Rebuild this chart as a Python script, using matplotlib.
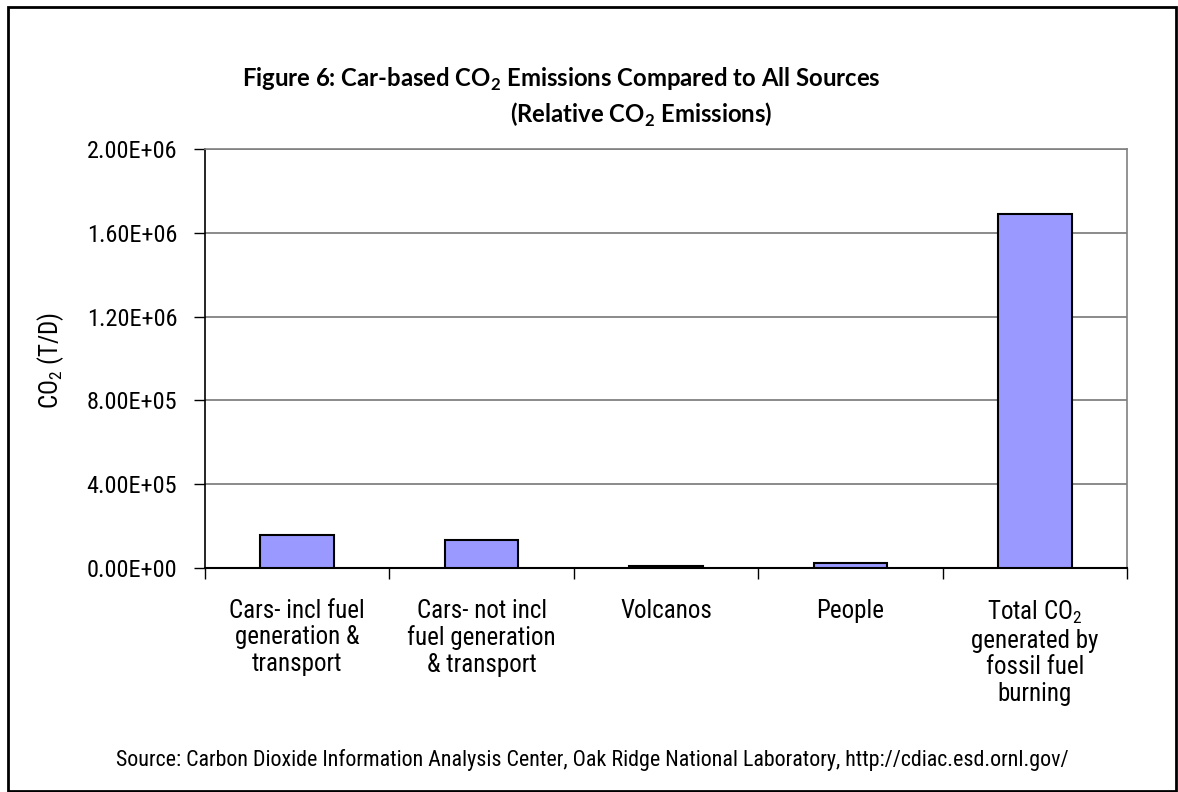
import matplotlib
matplotlib.use('Agg')
import matplotlib.pyplot as plt
from matplotlib import font_manager
from matplotlib.patches import Rectangle
from matplotlib.ticker import FixedLocator, FuncFormatter

# Emission sources and CO2 output (tonnes per day)
categories = ['Cars- incl fuel\ngeneration &\ntransport',
              'Cars- not incl\nfuel generation\n& transport',
              'Volcanos',
              'People',
              r'Total CO$_\mathrm{2}$' + '\ngenerated by\nfossil fuel\nburning']
emissions = [1.57e5, 1.33e5, 8.0e3, 2.4e4, 1.69e6]
y_ticks = [0, 4e5, 8e5, 1.2e6, 1.6e6, 2.0e6]

# pick a narrow face for the axis text if one is installed
fonts = font_manager.fontManager.ttflist
names = {f.name for f in fonts}
narrow_name, narrow_stretch = 'Roboto', 'normal'
for cand in ['Liberation Sans Narrow', 'Roboto Condensed', 'DejaVu Sans Condensed']:
    if cand in names:
        narrow_name = cand
        break
else:
    for f in fonts:
        if f.name == 'DejaVu Sans' and str(f.stretch) in ('condensed', '400', 'semi-condensed'):
            narrow_name, narrow_stretch = 'DejaVu Sans', 'condensed'
            break

plt.rcParams['font.family'] = [narrow_name, 'DejaVu Sans']
plt.rcParams['font.stretch'] = narrow_stretch
plt.rcParams['mathtext.fontset'] = 'custom'
plt.rcParams['mathtext.rm'] = narrow_name
plt.rcParams['mathtext.bf'] = 'Lato:bold'

fig = plt.figure(figsize=(11.78, 7.92), dpi=100)
ax = fig.add_axes([205 / 1178, 1 - 568 / 792, (1127 - 205) / 1178, (568 - 149) / 792])

# outer frame around the whole chart
fig.patches.append(Rectangle((8 / 1178, 1 / 792), 1168 / 1178, 784 / 792,
                             transform=fig.transFigure, fill=False,
                             ec='black', lw=2))

x = range(len(categories))
ax.bar(x, emissions, width=0.4, color='#9999ff', edgecolor='black', lw=1.5,
       zorder=3)

ax.set_xlim(-0.5, len(categories) - 0.5)
ax.set_ylim(0, 2.0e6)
ax.yaxis.set_major_locator(FixedLocator(y_ticks))
ax.yaxis.set_major_formatter(FuncFormatter(lambda v, p: f'{v:.2E}'))
ax.grid(axis='y', color='#777777', lw=1.2, zorder=0)

ax.set_xticks(list(x))
ax.set_xticklabels(categories, fontsize=18, linespacing=1.15, va='top')
ax.set_xticks([i - 0.5 for i in range(len(categories) + 1)], minor=True)
ax.tick_params(axis='x', which='major', length=0, pad=22)
ax.tick_params(axis='x', which='minor', length=8, width=1, color='black')
ax.tick_params(axis='y', length=8, width=1, labelsize=17.5, pad=12)

for side in ['top', 'right']:
    ax.spines[side].set_color('#808080')
    ax.spines[side].set_linewidth(1.2)
ax.spines['left'].set_linewidth(1.2)
ax.spines['bottom'].set_linewidth(1.5)

ax.set_ylabel(r'CO$_\mathrm{2}$ (T/D)', fontsize=18)
ax.yaxis.set_label_coords(51 / 1178, 0.5, transform=fig.transFigure)
ax.yaxis.label.set_va('center')
ax.yaxis.label.set_y(1 - 360 / 792)

title_font = ['Lato', 'DejaVu Sans']
fig.text(561 / 1178, 1 - 87 / 792,
         r'Figure 6: Car-based CO$_\mathbf{2}$ Emissions Compared to All Sources',
         ha='center', va='baseline', fontsize=17.2, fontweight='bold',
         family=title_font)
fig.text(641 / 1178, 1 - 123 / 792, r'(Relative CO$_\mathbf{2}$ Emissions)',
         ha='center', va='baseline', fontsize=17.2, fontweight='bold',
         family=title_font)

fig.text(592 / 1178, 1 - 760 / 792,
         'Source: Carbon Dioxide Information Analysis Center, Oak Ridge '
         'National Laboratory, http://cdiac.esd.ornl.gov/',
         ha='center', va='center', fontsize=15.8)

fig.savefig('out.png', dpi=100)
